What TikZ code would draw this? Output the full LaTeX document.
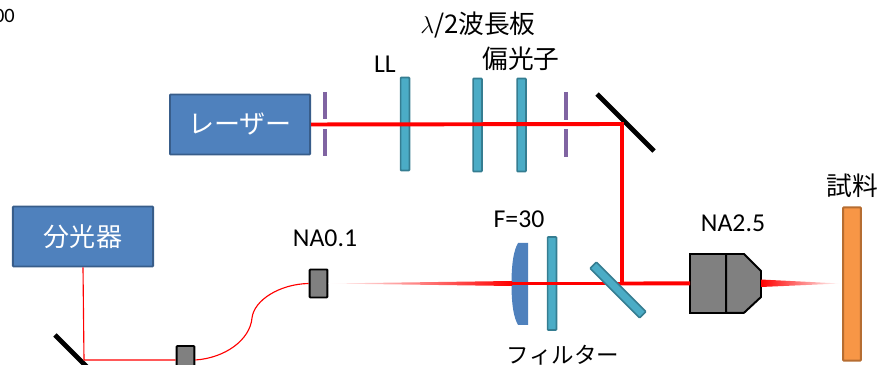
\documentclass[tikz,border=0pt]{standalone}
\usepackage{fontspec}
\setmainfont{Carlito}
\newfontfamily\jpfont{Noto Sans CJK JP}
\definecolor{boxblue}{HTML}{4F81BD}
\definecolor{boxedge}{HTML}{385D8A}
\definecolor{plateteal}{HTML}{4BACC6}
\definecolor{plateedge}{HTML}{357D91}
\definecolor{slitpurple}{HTML}{8064A2}
\definecolor{samplefill}{HTML}{F79646}
\definecolor{sampleedge}{HTML}{B66D31}
\tikzset{
  device/.style={draw=boxedge,fill=boxblue,line width=1.4pt,rounded corners=.5pt,text=white,
    minimum width=3.5cm,minimum height=1.5cm,inner sep=0pt,font=\jpfont\fontsize{18.5}{18.5}\selectfont},
  plate/.style={draw=plateedge,fill=plateteal,line width=1.2pt,rounded corners=.5pt,
    minimum width=.22cm,minimum height=2.32cm,inner sep=0pt},
  coupler/.style={draw=black,fill=gray,line width=1.4pt,rounded corners=.5pt,
    minimum width=.44cm,minimum height=.7cm,inner sep=0pt},
  label/.style={font=\fontsize{18.3}{18.3}\selectfont,inner sep=0pt},
  jplabel/.style={font=\jpfont\fontsize{18.3}{18.3}\selectfont,inner sep=0pt},
  beam/.style={draw=red,line width=2.8pt},
  fibre/.style={draw=red,line width=.8pt},
  mirror/.style={draw=black,line width=3.4pt},
  slit/.style={draw=slitpurple,line width=2.4pt}
}
\begin{document}
\begin{tikzpicture}[x=.025cm,y=-.025cm]
  \useasboundingbox (0,0) rectangle (892,365);
  \node[label,font=\fontsize{14.5}{14.5}\selectfont,anchor=east] (stamp) at (15,16) {00};

  \node[device] (laser) at (240,124.5) {レーザー};
  \node[device] (spec) at (83,236.5) {分光器};

  \node[plate] (ll) at (405,124) {};
  \node[plate] (wave) at (477.5,125) {};
  \node[plate] (pol) at (521.5,125) {};
  \node[plate] (filter) at (552,283.5) {};

  % slits on both sides of the beam
  \coordinate (s1a) at (325,92);
  \coordinate (s1b) at (325,119);
  \coordinate (s1c) at (325,129);
  \coordinate (s1d) at (325,156);
  \coordinate (s2a) at (566,92);
  \coordinate (s2b) at (566,120);
  \coordinate (s2c) at (566,129);
  \coordinate (s2d) at (566,157);
  \draw[slit] (s1a) -- (s1b) (s1c) -- (s1d);
  \draw[slit] (s2a) -- (s2b) (s2c) -- (s2d);

  % mirrors
  \coordinate (m1a) at (597,94);
  \coordinate (m1b) at (654,151);
  \coordinate (m2a) at (55,335);
  \coordinate (m2b) at (112,392);
  \draw[mirror] (m1a) -- (m1b);
  \draw[mirror] (m2a) -- (m2b);

  % lens
  \fill[boxblue] (528,243) -- (518,243) .. controls (514,250) and (511.5,262) .. (511.5,284)
    .. controls (511.5,306) and (514,318) .. (518,325) -- (528,325) -- cycle;

  \node[coupler] (in) at (318.5,283.5) {};
  \node[coupler] (out) at (185.5,360) {};

  % objective
  \node[coupler,minimum width=.9cm,minimum height=1.47cm,rounded corners=0pt,outer sep=0pt,anchor=north west] (obj) at (690,254) {};
  \draw[black,fill=gray,line width=1.4pt,line join=round] (obj.north east) -- (744,254) -- (761,271) -- (761,297)
    -- (744,312.8) -- (obj.south east) -- cycle;
  \node[inner sep=0pt] (tip) at (761,283.5) {};

  \node[draw=sampleedge,fill=samplefill,line width=1.4pt,rounded corners=.5pt,inner sep=0pt,
    minimum width=.44cm,minimum height=3.83cm] (sample) at (852,284) {};

  \coordinate (turn) at (622,124);
  \coordinate (split) at (622,283.5);
  \coordinate (lensin) at (512,283.5);
  \coordinate (fold) at (84,360);

  \path[beam] (laser.east) -- (turn) -- (split) -- (obj.west);
  \path[beam,line width=2.6pt] (split) -- (lensin);
  \shade[left color=white,middle color=red!85!white,right color=red] (in.east) -- (lensin |- 0,281) -- (lensin |- 0,286) -- cycle;
  \shade[left color=red,middle color=red,right color=white] (tip.north) ++(0,-3) -- (840,283.5) -- (761,287) -- cycle;

  \path[fibre] (spec.south) -- (fold) -- (out.west);
  \path[fibre] (out.east) .. controls (225,358) and (250,340) .. (252,318)
    .. controls (254,300) and (280,284) .. (in.west);

  \node[plate,rotate=45,minimum height=1.75cm] (dichroic) at (618,290) {};

  \node[label] (lllabel) at (385,64) {LL};
  \node[jplabel] (wavelabel) at (478,25) {$\lambda$/2波長板};
  \node[jplabel] (pollabel) at (521,59) {偏光子};
  \node[label] (lenslabel) at (519,219) {F=30};
  \node[jplabel,font=\jpfont\fontsize{16}{16}\selectfont] (filterlabel) at (563,355) {フィルター};
  \node[label] (inlabel) at (325,238) {NA0.1};
  \node[label] (objlabel) at (733,223) {NA2.5};
  \node[jplabel] (samplelabel) at (852,186) {試料};
\end{tikzpicture}
\end{document}
